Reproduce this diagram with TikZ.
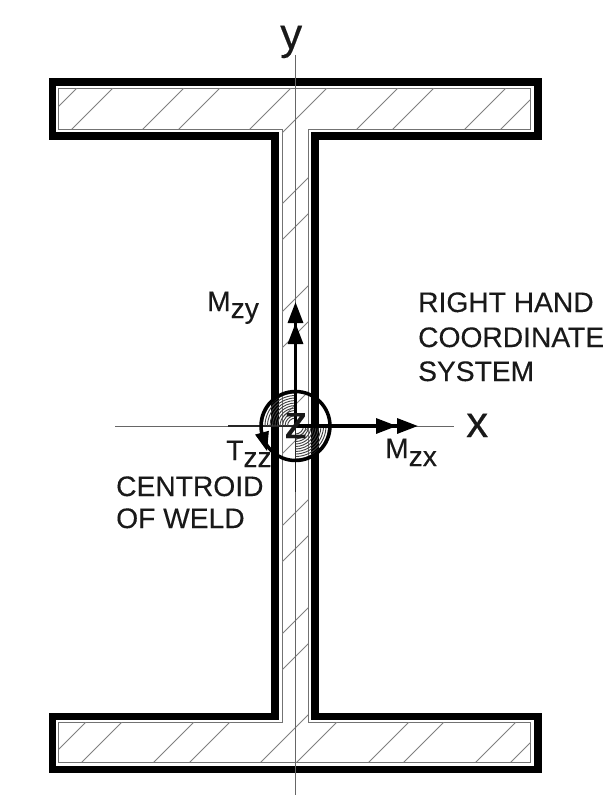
\documentclass[tikz,border=0pt]{standalone}
\usepackage{fontspec}
\setmainfont{Liberation Sans}[FakeBold=0.25]
\usetikzlibrary{arrows.meta,positioning}
\tikzset{
  wall/.style={line width=7.5pt,miter limit=10},
  weld/.style={line width=0.9pt,draw=black!55},
  hatch/.style={line width=0.8pt,draw=black!50},
  axisline/.style={line width=0.8pt,draw=black!60},
  axisdark/.style={line width=1.2pt,draw=black!85},
  moment/.style={line width=3.2pt,-{Triangle[length=21pt,width=15pt,sep=0pt]Triangle[length=21pt,width=15pt]}},
  torque/.style={line width=1pt,-{Triangle[length=19pt,width=14pt]}},
  lbl/.style={inner sep=0pt,anchor=base west,font=\fontsize{28.2}{34}\selectfont,text=black!90},
  bigl/.style={inner sep=0pt,anchor=base west,font=\fontsize{44}{50}\selectfont,text=black!90}
}
\newcommand{\weldpath}{(58.5,88) -- (530.5,88) -- (530.5,129) -- (308,129) -- (308,722) -- (530.5,722)
    -- (530.5,762) -- (58.5,762) -- (58.5,722) -- (282,722) -- (282,129) -- (58.5,129) -- cycle}
\begin{document}
\begin{tikzpicture}[x=1pt,y=-1pt]
  \useasboundingbox (0,0) rectangle (614,800);
  \fill[white] (0,0) rectangle (614,800);

  \coordinate (ctr) at (295.5,426);
  \coordinate (ytop) at (295.5,55);
  \coordinate (ybot) at (295.5,795);
  \coordinate (xleft) at (115,426);
  \coordinate (xright) at (454,426);
  \coordinate (xdark) at (228,426);
  \coordinate (ydark) at (295.5,492);
  \coordinate (mzy) at (295.5,302);
  \coordinate (mzx) at (418,426);
  \coordinate (tzzs) at (261.5,431);
  \coordinate (tzze) at (267,451);

  % section outline
  \draw[wall] (52.5,81.75) -- (538,81.75) -- (538,136) -- (315,136) -- (315,716.5) -- (538,716.5)
    -- (538,769.5) -- (52.5,769.5) -- (52.5,716.5) -- (275,716.5) -- (275,136) -- (52.5,136) -- cycle;
  \draw[weld] \weldpath;

  % hatching
  \begin{scope}
    \clip \weldpath;
    \foreach \c in {165,201,272,308,379,415,486,522,594,630,700,736,808,844,916,952,1023,1059,1131,1166,1238,1273}
      \draw[hatch] (\c,0) -- (\c-800,800);
  \end{scope}

  % axes
  \draw[axisline] (ytop) -- (ybot);
  \draw[axisline] (xleft) -- (xright);
  \draw[axisdark] (xdark) -- (ctr);
  \draw[axisdark] (ctr) -- (ydark);

  % weld centroid
  \foreach \r in {8,10.5,...,33} {
    \draw[line width=0.9pt,black!75] (ctr) ++(180:\r pt) arc[start angle=180,end angle=90,radius=\r pt];
    \draw[line width=0.9pt,black!75] (ctr) ++(0:\r pt) arc[start angle=0,end angle=-90,radius=\r pt];
  }
  \draw[line width=3.5pt] (ctr) circle[radius=34.5pt];
  \draw[torque] (tzzs) -- (tzze);
  \draw[moment] (ctr) -- (mzy);
  \draw[moment] (ctr) -- (mzx);

  % labels
  \node[bigl] (ylabel) at (280,49) {y};
  \node[bigl] (xlabel) at (466,437) {x};
  \node[bigl,font=\fontsize{47}{50}\selectfont] (zlabel) at (284,438) {z};
  \node[lbl] (mzylabel) at (207,311) {M\raisebox{-7pt}{zy}};
  \node[lbl] (mzxlabel) at (385,458) {M\raisebox{-8pt}{zx}};
  \node[lbl] (tzzlabel) at (226,460) {T\raisebox{-7pt}{zz}};
  \node[lbl] (title1) at (418,312) {RIGHT HAND};
  \node[lbl] (title2) at (418,347) {COORDINATE};
  \node[lbl] (title3) at (418,381) {SYSTEM};
  \node[lbl] (weld1) at (116,496) {CENTROID};
  \node[lbl] (weld2) at (116,528) {OF WELD};
\end{tikzpicture}
\end{document}
